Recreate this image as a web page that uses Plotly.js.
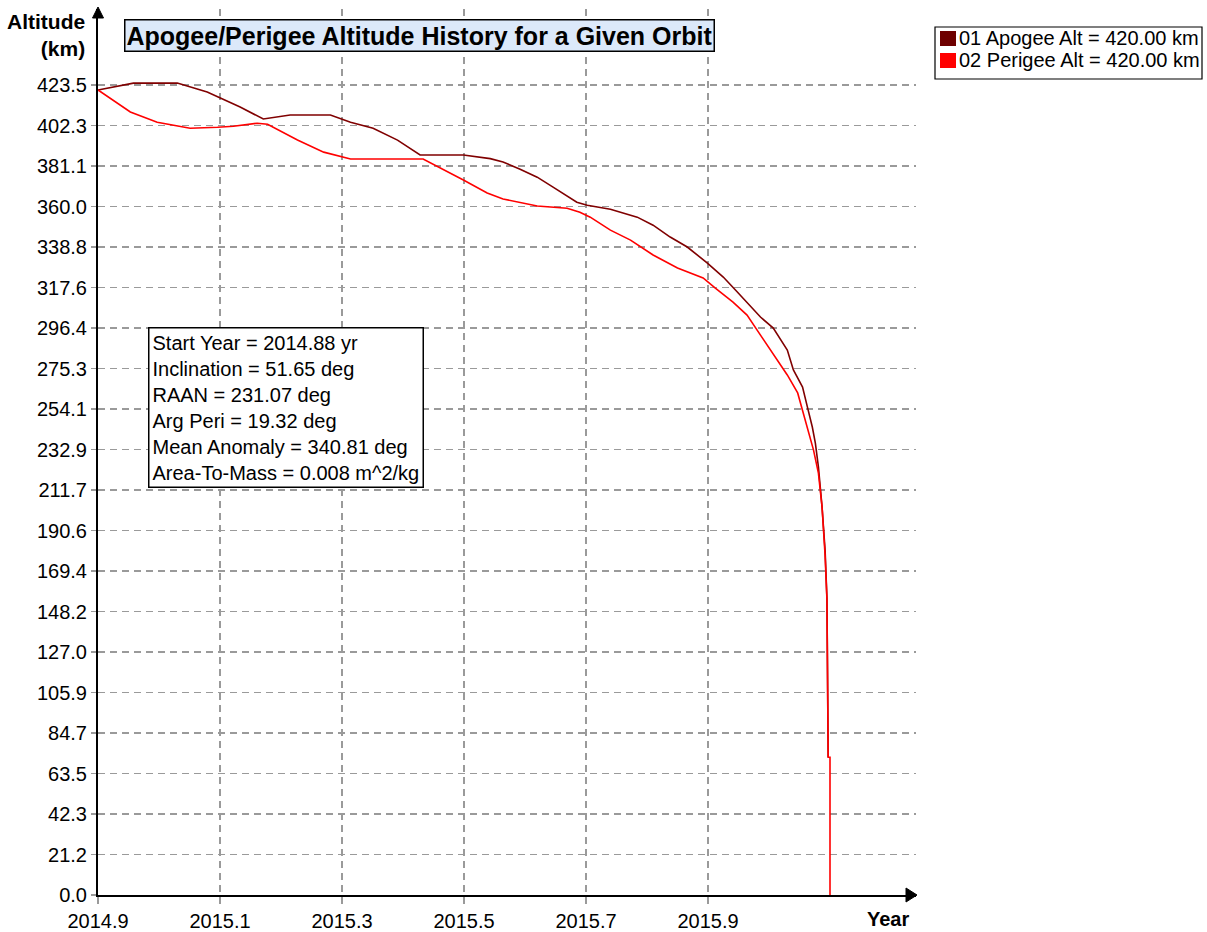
<!DOCTYPE html>
<html>
<head>
<meta charset="utf-8">
<script src="https://cdn.plot.ly/plotly-3.0.1.min.js"></script>
<style>
html,body{margin:0;padding:0;background:#fff;}
#chart{width:1207px;height:932px;}
</style>
</head>
<body>
<div id="chart"></div>
<script>
// ---- data ----
const seriesNames = ['01 Apogee Alt = 420.00 km', '02 Perigee Alt = 420.00 km'];
const seriesColors = ['#800000', '#ff0000'];

const apogeeYear = [2014.880, 2014.938, 2015.010, 2015.059, 2015.077, 2015.113, 2015.151, 2015.195, 2015.261, 2015.294, 2015.331, 2015.371, 2015.408, 2015.479, 2015.523, 2015.544, 2015.572, 2015.600, 2015.626, 2015.665, 2015.682, 2015.720, 2015.764, 2015.790, 2015.818, 2015.846, 2015.879, 2015.905, 2015.925, 2015.944, 2015.966, 2015.987, 2016.010, 2016.020, 2016.035, 2016.043, 2016.051, 2016.056, 2016.061, 2016.067, 2016.072, 2016.075, 2016.077];
const apogeeAlt  = [420.9, 424.5, 424.5, 419.8, 417.2, 412.0, 405.7, 407.8, 407.8, 404.0, 400.9, 394.7, 386.9, 386.9, 385.0, 383.2, 379.5, 375.3, 370.1, 362.2, 360.6, 358.5, 354.4, 350.2, 344.0, 338.8, 330.4, 323.1, 316.3, 309.5, 302.2, 296.4, 284.9, 274.5, 265.6, 255.1, 244.7, 236.3, 223.8, 202.8, 180.0, 155.0, 72.0];

const perigeeYear = [2014.880, 2014.933, 2014.977, 2015.031, 2015.076, 2015.102, 2015.141, 2015.158, 2015.207, 2015.250, 2015.294, 2015.413, 2015.479, 2015.518, 2015.544, 2015.600, 2015.649, 2015.670, 2015.687, 2015.720, 2015.753, 2015.790, 2015.830, 2015.872, 2015.892, 2015.921, 2015.944, 2015.966, 2015.987, 2016.010, 2016.027, 2016.036, 2016.045, 2016.053, 2016.061, 2016.067, 2016.072, 2016.075, 2016.077, 2016.080, 2016.080];
const perigeeAlt  = [420.9, 409.4, 404.0, 400.9, 401.4, 401.9, 403.5, 403.0, 394.7, 388.4, 384.8, 384.8, 373.8, 367.0, 363.9, 360.2, 359.1, 357.0, 354.4, 347.6, 342.4, 334.6, 327.8, 322.6, 317.3, 310.0, 303.2, 292.8, 283.4, 271.9, 262.5, 252.0, 241.5, 232.6, 220.6, 202.8, 177.3, 154.2, 72.0, 72.0, 0.0];

const xTickVals   = [2014.88, 2015.08, 2015.28, 2015.48, 2015.68, 2015.88];
const xTickLabels = ['2014.9', '2015.1', '2015.3', '2015.5', '2015.7', '2015.9'];
const yTickLabels = ['0.0','21.2','42.3','63.5','84.7','105.9','127.0','148.2','169.4','190.6','211.7','232.9','254.1','275.3','296.4','317.6','338.8','360.0','381.1','402.3','423.5'];
const yTickTop = 423.5;

const chartTitle = 'Apogee/Perigee Altitude History for a Given Orbit';
const yTitleLines = ['Altitude', '(km)'];
const xTitle = 'Year';
const infoLines = ['Start Year = 2014.88 yr', 'Inclination = 51.65 deg', 'RAAN = 231.07 deg', 'Arg Peri = 19.32 deg', 'Mean Anomaly = 340.81 deg', 'Area-To-Mass = 0.008 m^2/kg'];

// ---- layout helpers (pixel -> paper) ----
const W = 1207, H = 932;
const M = {l: 98, r: 291, t: 9, b: 37};
const PW = W - M.l - M.r, PH = H - M.t - M.b;
const px = v => (v - M.l) / PW;
const py = v => (H - M.b - v) / PH;

const FONT = 'Liberation Sans, Arial, Helvetica, sans-serif';
const yTickVals = yTickLabels.map((_, i) => i * yTickTop / (yTickLabels.length - 1));

const traces = [
  {x: apogeeYear, y: apogeeAlt, mode: 'lines', line: {color: seriesColors[0], width: 1.6}, showlegend: false, hoverinfo: 'x+y'},
  {x: perigeeYear, y: perigeeAlt, mode: 'lines', line: {color: seriesColors[1], width: 1.6}, showlegend: false, hoverinfo: 'x+y'}
];

const shapes = [
  // x axis arrow
  {type: 'path', xref: 'paper', yref: 'paper', path: `M ${px(906)} ${py(888)} L ${px(917)} ${py(895)} L ${px(906)} ${py(902)} Z`, fillcolor: '#000', line: {color: '#000', width: 1}},
  // y axis arrow
  {type: 'path', xref: 'paper', yref: 'paper', path: `M ${px(92.5)} ${py(18)} L ${px(98)} ${py(7)} L ${px(103.5)} ${py(18)} Z`, fillcolor: '#000', line: {color: '#000', width: 1}},
  // legend box
  {type: 'rect', xref: 'paper', yref: 'paper', x0: px(935), x1: px(1202), y0: py(27), y1: py(79), line: {color: '#000', width: 1.2}, fillcolor: '#fff'}
];
const annotations = [
  {xref: 'paper', yref: 'paper', x: px(419), y: py(36), xanchor: 'center', yanchor: 'middle', text: '<b>' + chartTitle + '</b>', showarrow: false,
   font: {family: FONT, size: 25, color: '#000'}, bgcolor: '#dce9fa', bordercolor: '#000', borderwidth: 1.5, borderpad: 1},
  {xref: 'paper', yref: 'paper', x: px(87), y: py(8), xanchor: 'right', yanchor: 'top', align: 'right', text: '<b>' + yTitleLines.join('<br>') + '</b>', showarrow: false,
   font: {family: FONT, size: 21, color: '#000'}},
  {xref: 'paper', yref: 'paper', x: px(911), y: py(919), xanchor: 'right', yanchor: 'middle', text: '<b>' + xTitle + '</b>', showarrow: false,
   font: {family: FONT, size: 20, color: '#000'}},
  {xref: 'paper', yref: 'paper', x: px(148), y: py(327), xanchor: 'left', yanchor: 'top', align: 'left', text: infoLines.join('<br>'), showarrow: false,
   font: {family: FONT, size: 20, color: '#000'}, bgcolor: '#fff', bordercolor: '#000', borderwidth: 1.5, borderpad: 3}
];
seriesNames.forEach((name, i) => {
  const cy = 38 + i * 22;
  shapes.push({type: 'rect', xref: 'paper', yref: 'paper', x0: px(940), x1: px(956), y0: py(cy - 7), y1: py(cy + 8), fillcolor: seriesColors[i] === '#800000' ? '#6e0000' : seriesColors[i], line: {width: 0}});
  annotations.push({xref: 'paper', yref: 'paper', x: px(957), y: py(cy), xanchor: 'left', yanchor: 'middle', text: name, showarrow: false,
    font: {family: FONT, size: 20, color: '#000'}});
});

const layout = {
  width: W, height: H,
  margin: M,
  paper_bgcolor: '#fff', plot_bgcolor: '#fff',
  showlegend: false,
  xaxis: {
    range: [2014.88, 2014.88 + PW / 610], tickvals: xTickVals, ticktext: xTickLabels,
    showgrid: true, gridcolor: '#9a9a9a', gridwidth: 1.3, griddash: '7px,5px',
    showline: true, linecolor: '#000', linewidth: 2,
    ticks: 'outside', ticklen: 7, tickcolor: '#9a9a9a', tickwidth: 1.3,
    tickfont: {family: FONT, size: 20, color: '#000'}, zeroline: false, fixedrange: true
  },
  yaxis: {
    range: [0, PH * yTickTop / 810], tickvals: yTickVals, ticktext: yTickLabels,
    showgrid: true, gridcolor: '#9a9a9a', gridwidth: 1.3, griddash: '7px,5px',
    showline: true, linecolor: '#000', linewidth: 2,
    ticks: 'outside', ticklen: 5, tickcolor: '#9a9a9a', tickwidth: 1.3,
    tickfont: {family: FONT, size: 20, color: '#000'}, zeroline: false, fixedrange: true
  },
  shapes: shapes,
  annotations: annotations
};

Plotly.newPlot('chart', traces, layout, {displayModeBar: false, staticPlot: true});
</script>
</body>
</html>
